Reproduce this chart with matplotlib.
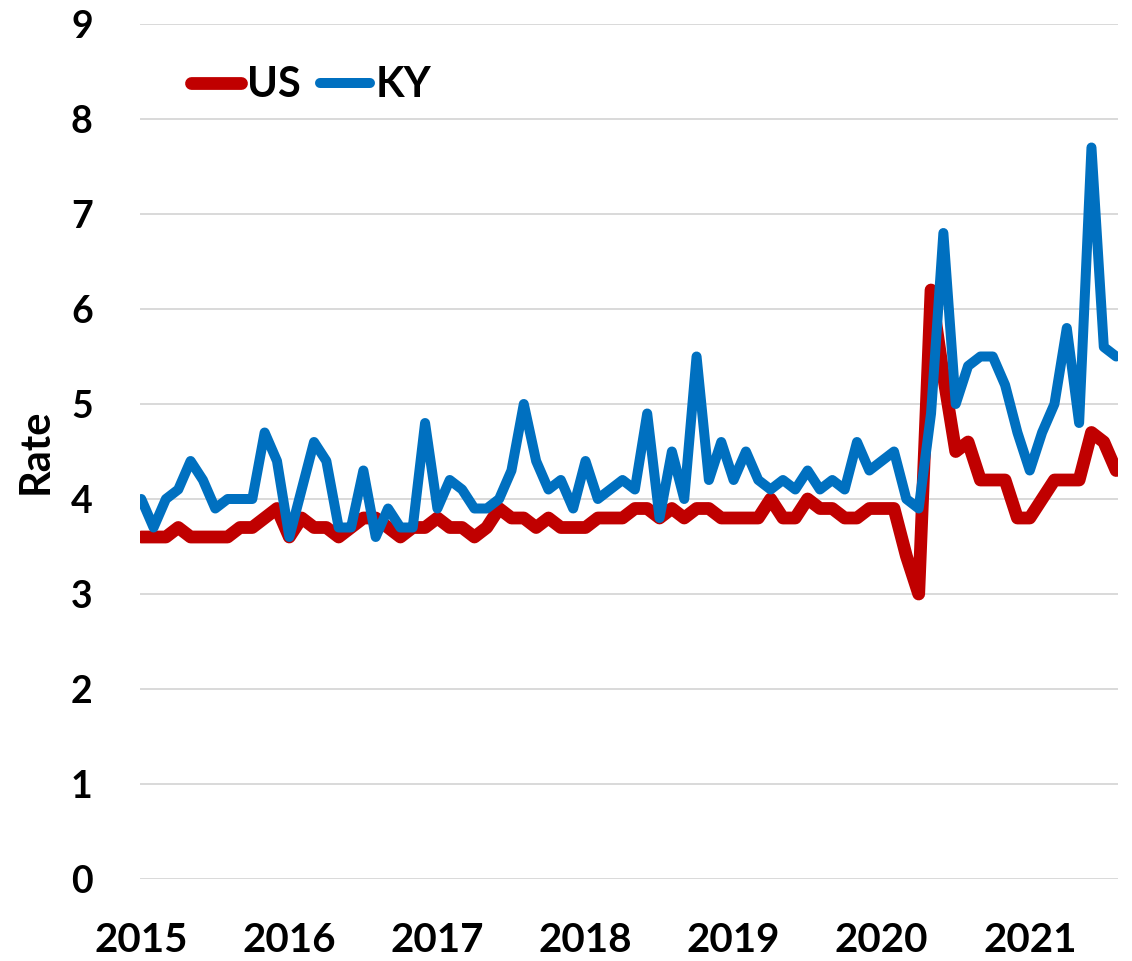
import matplotlib
matplotlib.use("Agg")
import matplotlib.pyplot as plt
import numpy as np

years = ["2015", "2016", "2017", "2018", "2019", "2020", "2021"]
us = [3.6, 3.6, 3.6, 3.7, 3.6, 3.6, 3.6, 3.6, 3.7, 3.7, 3.8, 3.9,
      3.6, 3.8, 3.7, 3.7, 3.6, 3.7, 3.8, 3.8, 3.7, 3.6, 3.7, 3.7,
      3.8, 3.7, 3.7, 3.6, 3.7, 3.9, 3.8, 3.8, 3.7, 3.8, 3.7, 3.7,
      3.7, 3.8, 3.8, 3.8, 3.9, 3.9, 3.8, 3.9, 3.8, 3.9, 3.9, 3.8,
      3.8, 3.8, 3.8, 4.0, 3.8, 3.8, 4.0, 3.9, 3.9, 3.8, 3.8, 3.9,
      3.9, 3.9, 3.4, 3.0, 6.2, 5.3, 4.5, 4.6, 4.2, 4.2, 4.2, 3.8,
      3.8, 4.0, 4.2, 4.2, 4.2, 4.7, 4.6, 4.3]
ky = [4.0, 3.7, 4.0, 4.1, 4.4, 4.2, 3.9, 4.0, 4.0, 4.0, 4.7, 4.4,
      3.6, 4.1, 4.6, 4.4, 3.7, 3.7, 4.3, 3.6, 3.9, 3.7, 3.7, 4.8,
      3.9, 4.2, 4.1, 3.9, 3.9, 4.0, 4.3, 5.0, 4.4, 4.1, 4.2, 3.9,
      4.4, 4.0, 4.1, 4.2, 4.1, 4.9, 3.8, 4.5, 4.0, 5.5, 4.2, 4.6,
      4.2, 4.5, 4.2, 4.1, 4.2, 4.1, 4.3, 4.1, 4.2, 4.1, 4.6, 4.3,
      4.4, 4.5, 4.0, 3.9, 4.9, 6.8, 5.0, 5.4, 5.5, 5.5, 5.2, 4.7,
      4.3, 4.7, 5.0, 5.8, 4.8, 7.7, 5.6, 5.5]
yticks = list(range(0, 10))

FONT = "Lato"
fig = plt.figure(figsize=(11.32, 9.61), dpi=100)
ax = fig.add_axes([140/1132, (961-879)/961, (1118-140)/1132, (879-24)/961])

x = np.arange(len(us))
ax.plot(x, us, color="#C00000", lw=9.2, solid_joinstyle="round",
        solid_capstyle="round", label="US", zorder=3)
ax.plot(x, ky, color="#0070C0", lw=7.2, solid_joinstyle="round",
        solid_capstyle="round", label="KY", zorder=4)

ax.set_ylim(0, 9)
ax.set_xlim(-0.1, 79.15)
ax.set_yticks(yticks)
ax.set_yticklabels([str(v) for v in yticks], fontfamily=FONT,
                   fontweight="bold", fontsize=27)
ax.set_xticks(np.arange(0, 80, 12)[:len(years)])
ax.set_xticklabels(years, fontfamily=FONT, fontweight="bold", fontsize=29)
ax.tick_params(axis="both", length=0)
ax.tick_params(axis="y", pad=34)
ax.tick_params(axis="x", pad=31)
ax.grid(axis="y", color="#D9D9D9", lw=1.4)
ax.set_axisbelow(True)
for s in ax.spines.values():
    s.set_visible(False)

ax.set_ylabel("Rate", fontfamily=FONT, fontweight="bold", fontsize=30,
              labelpad=12)

leg = ax.legend(loc="upper left", bbox_to_anchor=(0.035, 0.97), ncol=2,
                frameon=False, handlelength=1.2, handletextpad=0.15,
                columnspacing=0.45, borderaxespad=0,
                prop={"family": FONT, "weight": "bold", "size": 30})

fig.savefig("out.png", dpi=100)
